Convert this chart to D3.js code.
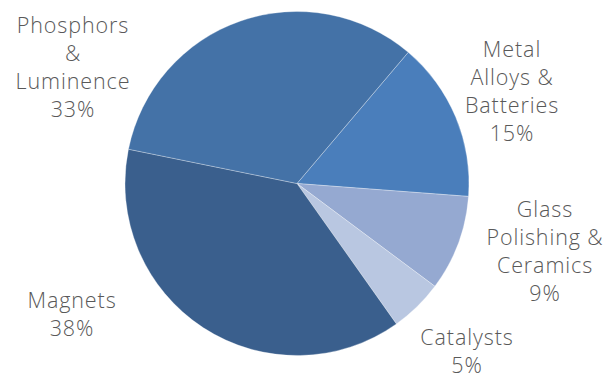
<!DOCTYPE html>
<html><head><meta charset="utf-8">
<script src="https://cdn.jsdelivr.net/npm/d3@7"></script>
<style>html,body{margin:0;padding:0;background:#fff;}</style>
</head><body><div id="chart"></div>
<script>
const categories = ["Metal Alloys & Batteries", "Glass Polishing & Ceramics", "Catalysts", "Magnets", "Phosphors & Luminence"];
const labelLines = [["Metal", "Alloys &", "Batteries"], ["Glass", "Polishing &", "Ceramics"], ["Catalysts"], ["Magnets"], ["Phosphors", "&", "Luminence"]];
const values = [15, 9, 5, 38, 33];
const colors = ["#4A7EBB", "#95A9D1", "#B9C7E1", "#3A5F8D", "#4472A7"];

// layout
const W = 608, H = 373;
const cx = 297, cy = 183.5, R = 172;
const startDeg = 40.3;
const labelAnchors = [[512, 56.7], [545, 216.7], [467, 345], [72, 308], [73, 33]]; // first baseline, center x
const lineH = 28;

const svg = d3.select("#chart").append("svg").attr("width", W).attr("height", H);
const g = svg.append("g").attr("transform", `translate(${cx},${cy})`);
const start = startDeg * Math.PI / 180;
const pie = d3.pie().sort(null).value(d => d).startAngle(start).endAngle(start + 2 * Math.PI);
const arcs = pie(values);
const arc = d3.arc().innerRadius(0).outerRadius(R);
g.selectAll("path").data(arcs).join("path")
  .attr("d", arc).attr("fill", (d, i) => colors[i])
  .attr("stroke", "#fff").attr("stroke-width", 0.5).attr("stroke-opacity", 0.6);

const total = d3.sum(values);
const fmt = d3.format(".0%");
const labels = svg.append("g").attr("font-family", "'Open Sans', Lato, sans-serif")
  .attr("font-size", 21.5).attr("font-weight", 300).attr("letter-spacing", 0.9)
  .attr("fill", "#595959").attr("text-anchor", "middle");
arcs.forEach((d, i) => {
  const lines = labelLines[i].concat([fmt(values[i] / total)]);
  const t = labels.append("text").attr("x", labelAnchors[i][0]).attr("y", labelAnchors[i][1]);
  lines.forEach((ln, j) => {
    t.append("tspan").attr("x", labelAnchors[i][0]).attr("dy", j === 0 ? 0 : lineH).text(ln);
  });
});
</script></body></html>
